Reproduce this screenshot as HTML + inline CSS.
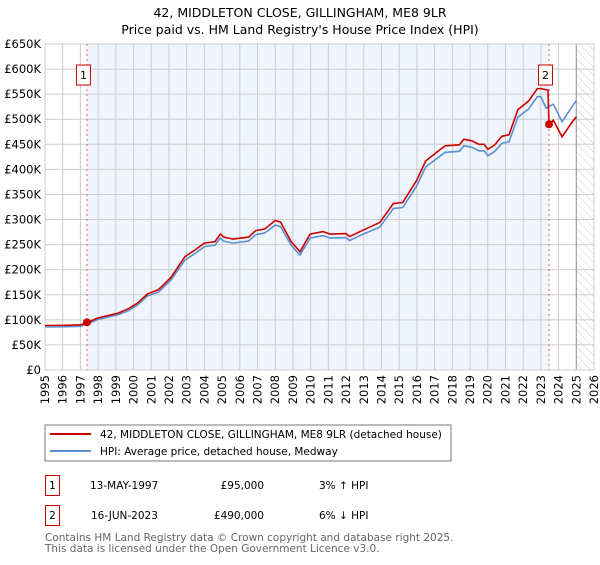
<!DOCTYPE html>
<html><head><meta charset="utf-8"><style>
body{margin:0;background:#fff;font-family:"Liberation Sans","DejaVu Sans",sans-serif}
svg text{font-family:"DejaVu Sans","Liberation Sans",sans-serif}
</style></head><body>
<svg id="c" width="600" height="560">
<defs><pattern id="hatch" width="6" height="6" patternUnits="userSpaceOnUse" patternTransform="rotate(-45)"><line x1="0" y1="0" x2="0" y2="6" stroke="#ccc" stroke-width="1"/></pattern></defs>
<text x="300" y="17" text-anchor="middle" font-size="12.5">42, MIDDLETON CLOSE, GILLINGHAM, ME8 9LR</text>
<text x="300" y="34" text-anchor="middle" font-size="12.5">Price paid vs. HM Land Registry's House Price Index (HPI)</text>
<g id="plot"></g>
<rect x="45" y="425" width="406" height="36" fill="#fff" stroke="#777"/>
<line x1="50" y1="434" x2="91" y2="434" stroke="#cc0000" stroke-width="2"/>
<text x="100" y="438" font-size="10.5">42, MIDDLETON CLOSE, GILLINGHAM, ME8 9LR (detached house)</text>
<line x1="50" y1="451" x2="91" y2="451" stroke="#5b8fd0" stroke-width="2"/>
<text x="100" y="455" font-size="10.5">HPI: Average price, detached house, Medway</text>
<g font-size="10.5">
<rect x="45.5" y="475.5" width="14" height="20" fill="#fff" stroke="#cc0000"/>
<text x="52.5" y="489" text-anchor="middle">1</text>
<text x="90" y="489">13-MAY-1997</text>
<text x="264" y="489" text-anchor="end">£95,000</text>
<text x="319" y="489">3% ↑ HPI</text>
<rect x="45.5" y="505.5" width="14" height="20" fill="#fff" stroke="#cc0000"/>
<text x="52.5" y="519" text-anchor="middle">2</text>
<text x="91" y="519">16-JUN-2023</text>
<text x="264" y="519" text-anchor="end">£490,000</text>
<text x="319" y="519">6% ↓ HPI</text>
</g>
<text x="45" y="541" font-size="10.5" fill="#666">Contains HM Land Registry data © Crown copyright and database right 2025.</text>
<text x="45" y="552" font-size="10.5" fill="#666">This data is licensed under the Open Government Licence v3.0.</text>
</svg>
<script>
const hpiYears=[1995.0,1996.0,1997.0,1997.4,1998.0,1999.1,1999.7,2000.2,2000.8,2001.4,2002.1,2002.9,2003.5,2004.0,2004.6,2004.9,2005.1,2005.6,2006.5,2006.9,2007.4,2008.0,2008.3,2008.9,2009.4,2009.97,2010.7,2011.1,2012.0,2012.2,2012.97,2013.9,2014.67,2015.2,2015.97,2016.5,2017.25,2017.6,2018.4,2018.65,2019.1,2019.5,2019.8,2020.0,2020.4,2020.8,2021.2,2021.7,2022.3,2022.8,2023.0,2023.3,2023.7,2024.2,2024.7,2025.0];
const hpiValues=[86,86,87,92,101,110,118,129,148,155,179,219,233,246,249,263,257,253,257,270,273,289,286,249,229,263,268,263,264,258,271,285,322,324,366,405,425,434,436,447,444,437,437,427,436,452,455,504,520,545,545,522,530,495,522,537];
const priceYears=[1995.0,1996.0,1997.0,1997.4,1998.0,1999.1,1999.7,2000.2,2000.8,2001.4,2002.1,2002.9,2003.5,2004.0,2004.6,2004.9,2005.1,2005.6,2006.5,2006.9,2007.4,2008.0,2008.3,2008.9,2009.4,2009.97,2010.7,2011.1,2012.0,2012.2,2012.97,2013.9,2014.67,2015.2,2015.97,2016.5,2017.25,2017.6,2018.4,2018.65,2019.1,2019.5,2019.8,2020.0,2020.4,2020.8,2021.2,2021.7,2022.3,2022.8,2023.0,2023.4,2023.46,2023.7,2024.2,2024.7,2025.0];
const priceValues=[89,89,90,95,104,113,122,133,152,160,184,226,240,253,256,271,265,261,265,278,281,298,295,256,236,271,276,271,272,266,279,294,332,334,377,417,438,447,449,460,457,450,450,440,449,466,469,519,536,561,561,558,490,498,465,491,505];
const saleYears=[1997.37,2023.46];
const saleValues=[95,490];
const yTicks=[0,50,100,150,200,250,300,350,400,450,500,550,600,650];
const yTickLabels=["£0","£50K","£100K","£150K","£200K","£250K","£300K","£350K","£400K","£450K","£500K","£550K","£600K","£650K"];
const xTicks=[1995,1996,1997,1998,1999,2000,2001,2002,2003,2004,2005,2006,2007,2008,2009,2010,2011,2012,2013,2014,2015,2016,2017,2018,2019,2020,2021,2022,2023,2024,2025,2026];

const L=45,R=594,T=44,B=370,ns="http://www.w3.org/2000/svg";
const X=y=>L+(y-1995)/(2026-1995)*(R-L);
const Y=v=>B-v/650*(B-T);
const g=document.getElementById('plot');
function mk(t,a,name){const e=document.createElementNS(ns,t);for(const k in a)e.setAttribute(k,a[k]);


g.appendChild(e);return e;}
mk('rect',{x:X(saleYears[0]),y:T,width:X(saleYears[1])-X(saleYears[0]),height:B-T,fill:'#f0f4fd'},'ownership-shading');
mk('rect',{x:X(2025),y:T,width:R-X(2025),height:B-T,fill:'url(#hatch)'},'forecast-hatch');
xTicks.forEach(t=>{mk('line',{x1:X(t),x2:X(t),y1:T,y2:B,stroke:'#ccc'},'x-gridline');
const tx=mk('text',{x:0,y:0,'font-size':11.5,'text-anchor':'end',transform:`translate(${X(t)+4},${B+5}) rotate(-90)`},'x-tick-label');tx.textContent=t;});
yTicks.forEach((t,i)=>{mk('line',{x1:L,x2:R,y1:Y(t),y2:Y(t),stroke:'#ccc'},'y-gridline');
const tx=mk('text',{x:L-4,y:Y(t)+4,'font-size':11.5,'text-anchor':'end'},'y-tick-label');tx.textContent=yTickLabels[i];});
mk('line',{x1:X(2025),x2:X(2025),y1:T,y2:B,stroke:'#999'},'data-end-line');
mk('rect',{x:L,y:T,width:R-L,height:B-T,fill:'none',stroke:'#ccc'},'plot-border');
saleYears.forEach((s,i)=>mk('line',{x1:X(s),x2:X(s),y1:T,y2:B,stroke:'#f06060','stroke-dasharray':'2,3'},'sale-marker-line'));
mk('polyline',{points:hpiYears.map((y,i)=>X(y)+','+Y(hpiValues[i])).join(' '),fill:'none',stroke:'#5b8fd0','stroke-width':1.6},'hpi-line');
mk('polyline',{points:priceYears.map((y,i)=>X(y)+','+Y(priceValues[i])).join(' '),fill:'none',stroke:'#cc0000','stroke-width':1.6},'price-line');
saleYears.forEach((s,i)=>{mk('circle',{cx:X(s),cy:Y(saleValues[i]),r:4,fill:'#cc0000'},'sale-point');
const bx=X(s)-10;const by=T+21;
mk('rect',{x:bx-0.5,y:by,width:14,height:20,fill:'#fff',stroke:'#cc0000'},'sale-label-box');
const t=mk('text',{x:bx+6.5,y:by+14,'font-size':11,'text-anchor':'middle'},'sale-label');t.textContent=i+1;});
</script>
</body></html>
